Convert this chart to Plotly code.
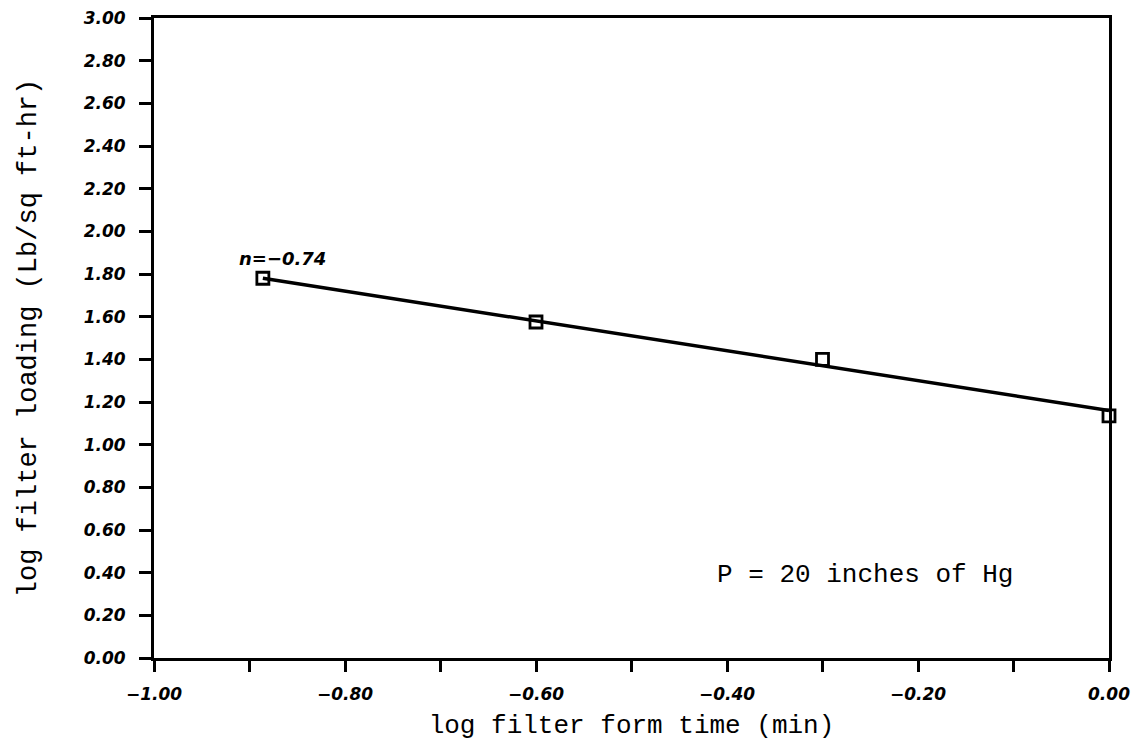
import plotly.graph_objects as go

# Data
log_time = [-0.886, -0.60, -0.30, 0.0]
log_loading = [1.78, 1.575, 1.40, 1.135]
fit_x = [-0.886, 0.0]
fit_y = [1.78, 1.16]

x_tickvals = [-1.0, -0.9, -0.8, -0.7, -0.6, -0.5, -0.4, -0.3, -0.2, -0.1, 0.0]
x_ticktext = ["\u22121.00", "", "\u22120.80", "", "\u22120.60", "", "\u22120.40", "", "\u22120.20", "", "0.00"]
y_tickvals = [0.0, 0.2, 0.4, 0.6, 0.8, 1.0, 1.2, 1.4, 1.6, 1.8, 2.0, 2.2, 2.4, 2.6, 2.8, 3.0]
y_ticktext = ["%.2f" % v for v in y_tickvals]

slope_label = "n=\u22120.74"
pressure_label = "P = 20 inches of Hg"
x_title = "log filter form time (min)"
y_title = "log filter loading (Lb/sq ft-hr)"

mono = "Liberation Mono"
tickfont = dict(family="DejaVu Sans", size=17, color="black", weight="bold", style="italic")

fig = go.Figure()
fig.add_trace(go.Scatter(x=fit_x, y=fit_y, mode="lines",
                         line=dict(color="black", width=3.5), showlegend=False))
fig.add_trace(go.Scatter(x=log_time, y=log_loading, mode="markers",
                         marker=dict(symbol="square-open", size=12, color="black",
                                     line=dict(width=2.8, color="black")),
                         showlegend=False, cliponaxis=False))

fig.add_annotation(x=-0.865, y=1.875, text=slope_label, showarrow=False,
                   xanchor="center", yanchor="middle",
                   font=dict(family="DejaVu Sans", size=18, color="black",
                             weight="bold", style="italic"))
fig.add_annotation(x=-0.413, y=0.39, text=pressure_label, showarrow=False,
                   xanchor="left", yanchor="middle",
                   font=dict(family=mono, size=26, color="black"))

fig.update_xaxes(range=[-1.0, 0.0], tickmode="array", tickvals=x_tickvals,
                 ticktext=x_ticktext, ticks="outside", ticklen=11, tickwidth=2.5,
                 tickcolor="black", showline=True, linecolor="black", linewidth=3,
                 mirror=True, showgrid=False, zeroline=False, tickfont=tickfont,
                 ticklabelstandoff=8,
                 title=dict(text=x_title, font=dict(family=mono, size=26, color="black"),
                            standoff=12))
fig.update_yaxes(range=[0.0, 3.0], tickmode="array", tickvals=y_tickvals,
                 ticktext=y_ticktext, ticks="outside", ticklen=12, tickwidth=2.5,
                 tickcolor="black", showline=True, linecolor="black", linewidth=3,
                 mirror=True, showgrid=False, zeroline=False, tickfont=tickfont,
                 ticklabelstandoff=10,
                 title=dict(text=y_title, font=dict(family=mono, size=27, color="black"),
                            standoff=40))

fig.update_layout(width=1144, height=748, plot_bgcolor="white", paper_bgcolor="white",
                  margin=dict(l=154, r=35, t=18, b=90, autoexpand=False))

fig.write_html("out.html")
